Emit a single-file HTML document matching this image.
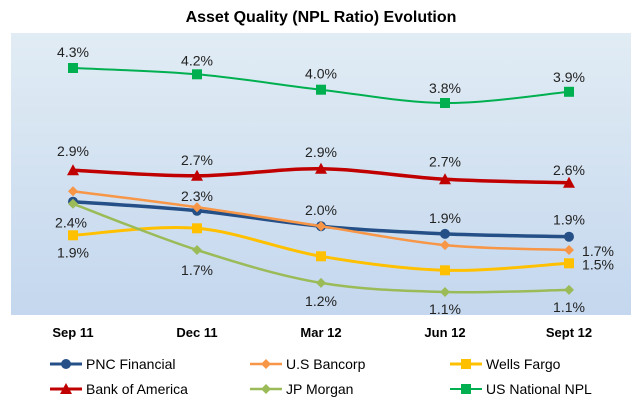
<!DOCTYPE html>
<html><head><meta charset="utf-8"><style>
body{margin:0;background:#fff;font-family:"Liberation Sans",sans-serif}
svg{display:block}
</style></head><body>
<svg width="642" height="402" id="c">
<defs><linearGradient id="bg" x1="0" y1="0" x2="0" y2="1"><stop offset="0" stop-color="#e1ecf4"/><stop offset="1" stop-color="#c4d7ee"/></linearGradient></defs>
<text x="321" y="22" text-anchor="middle" font-size="16" font-weight="bold" fill="#000">Asset Quality (NPL Ratio) Evolution</text>
<rect x="11" y="33" width="620" height="282" fill="url(#bg)"/>
<g id="g"></g>
</svg>
<script>
const categories=["Sep 11","Dec 11","Mar 12","Jun 12","Sept 12"];
const seriesNames=["PNC Financial","U.S Bancorp","Wells Fargo","Bank of America","JP Morgan","US National NPL"];
const pnc=[2.39,2.26,2.04,1.93,1.89];
const usb=[2.54,2.31,2.04,1.77,1.70];
const wf=[1.91,2.01,1.61,1.41,1.51];
const boa=[2.84,2.76,2.86,2.71,2.66];
const jpm=[2.36,1.70,1.23,1.10,1.13];
const npl=[4.30,4.21,3.99,3.80,3.96];
const pncLabels=["2.4%","2.3%","2.0%","1.9%","1.9%"];
const usbLabels=[null,null,null,null,"1.7%"];
const wfLabels=["1.9%",null,null,null,"1.5%"];
const boaLabels=["2.9%","2.7%","2.9%","2.7%","2.6%"];
const jpmLabels=[null,"1.7%","1.2%","1.1%","1.1%"];
const nplLabels=["4.3%","4.2%","4.0%","3.8%","3.9%"];

const NS="http://www.w3.org/2000/svg";
const g=document.getElementById('g');
function xS(i){return 73+i*124;}
function yS(v){return 369-v*70;}
function mk(t,a){const e=document.createElementNS(NS,t);for(const k in a)e.setAttribute(k,a[k]);return e;}
function path(pts){let d=`M${pts[0][0]},${pts[0][1]}`;for(let i=0;i<pts.length-1;i++){const p0=pts[i-1]||pts[i],p1=pts[i],p2=pts[i+1],p3=pts[i+2]||p2;const t=6;d+=` C${p1[0]+(p2[0]-p0[0])/t},${p1[1]+(p2[1]-p0[1])/t} ${p2[0]-(p3[0]-p1[0])/t},${p2[1]-(p3[1]-p1[1])/t} ${p2[0]},${p2[1]}`;}return d;}
function marker(type,x,y,col,s){
  if(type==='circle')return mk('circle',{cx:x,cy:y,r:5*s,fill:col});
  if(type==='diamond')return mk('polygon',{points:`${x},${y-5*s} ${x+5*s},${y} ${x},${y+5*s} ${x-5*s},${y}`,fill:col});
  if(type==='square')return mk('rect',{x:x-5*s,y:y-5*s,width:10*s,height:10*s,fill:col});
  return mk('polygon',{points:`${x},${y-6*s} ${x+6*s},${y+5*s} ${x-6*s},${y+5*s}`,fill:col});
}
const series=[
 {name:'pnc',vals:pnc,labels:pncLabels,col:'#254f87',w:3.5,m:'circle',off:[[-2,21],[0,-15],[0,-16],[0,-16],[0,-17]]},
 {name:'usbancorp',vals:usb,labels:usbLabels,col:'#f79646',w:2.5,m:'diamond',off:[0,0,0,0,[29,1]]},
 {name:'wellsfargo',vals:wf,labels:wfLabels,col:'#ffc000',w:3,m:'square',off:[[0,17],0,0,0,[29,1]]},
 {name:'bofa',vals:boa,labels:boaLabels,col:'#c00000',w:3.5,m:'triangle',off:[[0,-19],[0,-16],[0,-17],[0,-18],[0,-13]]},
 {name:'jpmorgan',vals:jpm,labels:jpmLabels,col:'#9bbb59',w:2.5,m:'diamond',off:[0,[0,20],[0,18],[0,17],[0,17]]},
 {name:'us-national-npl',vals:npl,labels:nplLabels,col:'#00b050',w:2,m:'square',off:[[0,-16],[0,-14],[0,-16],[0,-15],[0,-15]]}
];
series.forEach(s=>{
  const pts=s.vals.map((v,i)=>[xS(i),yS(v)]);
  const p=mk('path',{d:path(pts),fill:'none',stroke:s.col,'stroke-width':s.w});
  
  
  g.appendChild(p);
  pts.forEach((q,i)=>{
    const m=marker(s.m,q[0],q[1],s.col,1);
    
    
    g.appendChild(m);
  });
});
series.forEach(s=>{
  s.vals.forEach((v,i)=>{
    if(!s.labels[i])return;
    const o=s.off[i];
    const t=mk('text',{x:xS(i)+o[0],y:yS(v)+o[1]+5,'text-anchor':'middle','font-size':14,fill:'#222'});
    t.textContent=s.labels[i];
    
    
    g.appendChild(t);
  });
});
categories.forEach((c,i)=>{
  const t=mk('text',{x:xS(i),y:337,'text-anchor':'middle','font-size':13,'font-weight':'bold',fill:'#000'});
  t.textContent=c;
  
  
  g.appendChild(t);
});
seriesNames.forEach((n,i)=>{
  const s=series[i];
  const lx=50+(i%3)*200, ly=364+Math.floor(i/3)*25;
  const lg=mk('g',{});
  
  
  lg.appendChild(mk('line',{x1:lx,y1:ly,x2:lx+32,y2:ly,stroke:s.col,'stroke-width':Math.min(s.w,3)}));
  lg.appendChild(marker(s.m,lx+16,ly,s.col,1));
  const t=mk('text',{x:lx+36,y:ly+5,'font-size':14,fill:'#000'});
  t.textContent=n;
  lg.appendChild(t);
  g.appendChild(lg);
});
</script>
</body></html>
